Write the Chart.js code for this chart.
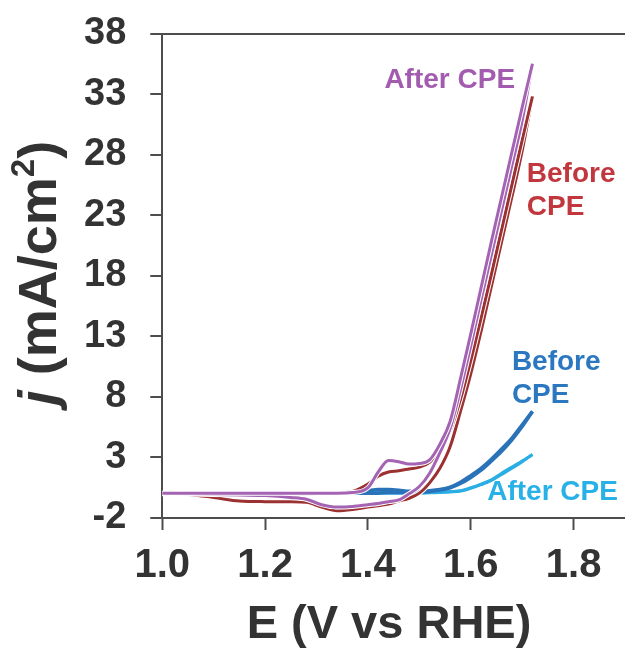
<!DOCTYPE html>
<html>
<head>
<meta charset="utf-8">
<script src="https://cdn.jsdelivr.net/npm/chart.js@4.4.1/dist/chart.umd.min.js"></script>
<style>
    html, body { margin: 0; padding: 0; background: #fff; }
    #wrap { width: 625px; height: 653px; }
</style>
</head>
<body>
<div id="wrap"><canvas id="Chart1"></canvas></div>
<script>

// potential grid (V vs RHE), shared by every scan
const potential = [1.00, 1.05, 1.10, 1.15, 1.20, 1.25, 1.28, 1.31, 1.34, 1.37, 1.40, 1.42, 1.44, 1.46,
                   1.48, 1.50, 1.52, 1.54, 1.56, 1.58, 1.60, 1.62, 1.64, 1.66, 1.68, 1.70, 1.72];

// current density (mA/cm2), forward and reverse scans
const redForward    = [0, 0, 0, 0, 0, 0, 0, 0.05, 0.1, 0.2, 0.8, 1.45, 1.8, 1.9,
                       2.05, 2.2, 2.6, 3.6, 5.2, 7.8, 11.0, 14.5, 18.1, 21.8, 25.5, 29.2, 32.8];
const redReverse    = [0, -0.05, -0.3, -0.6, -0.65, -0.66, -0.7, -1.1, -1.4, -1.3, -1.1, -1.0, -0.85, -0.6,
                       -0.37, 0.05, 0.9, 2.1, 3.9, 6.8, 9.9, 13.4, 17.1, 20.8, 24.5, 28.3, 32.8];
const purpleForward = [0.05, 0.05, 0.05, 0.05, 0.05, 0.05, 0.05, 0.05, 0.05, 0.1, 0.5, 1.8, 2.75, 2.65,
                       2.45, 2.5, 2.8, 4.1, 6.0, 9.5, 13.2, 17.0, 20.8, 24.5, 28.2, 31.9, 35.5];
const purpleReverse = [0.05, 0, -0.05, -0.1, -0.15, -0.3, -0.45, -0.9, -1.1, -1.05, -0.9, -0.8, -0.65, -0.5,
                       0.0, 0.6, 1.7, 3.4, 5.4, 8.6, 12.2, 16.0, 19.7, 23.4, 27.1, 30.8, 35.5];
const blueForward   = [0.05, 0.05, 0.05, 0.05, 0.05, 0.05, 0.05, 0.05, 0.05, 0.1, 0.25, 0.35, 0.35, 0.3,
                       0.2, 0.2, 0.25, 0.35, 0.55, 0.95, 1.5, 2.1, 2.85, 3.7, 4.6, 5.7, 6.8];
const blueReverse   = [0.05, 0.05, 0.05, 0.05, 0.05, 0.05, 0.05, 0.05, 0.05, 0.05, 0.05, 0.05, 0.1, 0.1,
                       0.1, 0.12, 0.18, 0.3, 0.5, 0.85, 1.35, 1.95, 2.7, 3.5, 4.45, 5.55, 6.8];
const cyanForward   = [0.05, 0.05, 0.05, 0.05, 0.05, 0.05, 0.05, 0.05, 0.05, 0.1, 0.15, 0.2, 0.2, 0.15,
                       0.1, 0.1, 0.1, 0.12, 0.18, 0.25, 0.5, 0.8, 1.15, 1.7, 2.2, 2.7, 3.25];
const cyanReverse   = [0.05, 0.05, 0.05, 0.05, 0.05, 0.05, 0.05, 0.05, 0.05, 0.05, 0.05, 0.05, 0.05, 0.05,
                       0.05, 0.05, 0.08, 0.1, 0.15, 0.22, 0.45, 0.75, 1.1, 1.6, 2.1, 2.65, 3.25];

const xTicks = [1.0, 1.2, 1.4, 1.6, 1.8];
const yTicks = [-2, 3, 8, 13, 18, 23, 28, 33, 38];

const FONT = "'Liberation Sans', Arial, sans-serif";
const INK = '#333333';
const AXIS = '#4d4d4d';

function strand(values, color, width, order) {
    return {
        data: potential.map((e, i) => ({ x: e, y: values[i] })),
        borderColor: color,
        borderWidth: width,
        pointRadius: 0,
        cubicInterpolationMode: 'monotone',
        order: order
    };
}

// curve labels, placed in data units (left edge, baseline)
const curveLabels = [
    { lines: ['After CPE'], x: 1.432, y: 33.5, color: '#a35bb0' },
    { lines: ['Before', 'CPE'], x: 1.709, y: 25.7, color: '#c1373d' },
    { lines: ['Before', 'CPE'], x: 1.680, y: 10.2, color: '#2b78c0' },
    { lines: ['After CPE'], x: 1.632, y: -0.5, color: '#28b1e7' }
];

const labelPlugin = {
    id: 'curveLabels',
    afterDatasetsDraw(chart) {
        const c = chart.ctx;
        const xs = chart.scales.x, ys = chart.scales.y;
        c.save();
        c.font = 'bold 28px ' + FONT;
        c.textAlign = 'left';
        c.textBaseline = 'alphabetic';
        curveLabels.forEach(l => {
            c.fillStyle = l.color;
            l.lines.forEach((t, i) => {
                c.fillText(t, xs.getPixelForValue(l.x), ys.getPixelForValue(l.y) + i * 33);
            });
        });
        c.restore();
    }
};

// axis titles: italic j and superscript 2 need mixed fonts
const titlePlugin = {
    id: 'axisTitles',
    afterDraw(chart) {
        const c = chart.ctx;
        c.save();
        c.fillStyle = INK;
        c.textBaseline = 'alphabetic';

        c.font = 'bold 47px ' + FONT;
        c.textAlign = 'center';
        c.fillText('E (V vs RHE)', 389, 638);

        const parts = [
            { t: 'j', f: 'italic bold 54px ' + FONT, dy: 0 },
            { t: ' (mA/cm', f: 'bold 54px ' + FONT, dy: 0 },
            { t: '2', f: 'bold 33px ' + FONT, dy: -22 },
            { t: ')', f: 'bold 54px ' + FONT, dy: 0 }
        ];
        let total = 0;
        parts.forEach(p => { c.font = p.f; p.w = c.measureText(p.t).width; total += p.w; });
        c.translate(56, 273);
        c.rotate(-Math.PI / 2);
        c.textAlign = 'left';
        let x = -total / 2;
        parts.forEach(p => { c.font = p.f; c.fillText(p.t, x, p.dy); x += p.w; });
        c.restore();
    }
};

const ctx = document.getElementById('Chart1');

new Chart(ctx, {
    type: 'line',
    data: {
        datasets: [
            strand(purpleForward, '#a463b3', 3, 1),
            strand(purpleForward, '#ffffff', 5, 2),
            strand(purpleReverse, '#a463b3', 3, 3),
            strand(purpleReverse, '#ffffff', 5, 4),
            strand(redForward, '#9b3131', 3, 5),
            strand(redForward, '#ffffff', 5, 6),
            strand(redReverse, '#9b3131', 3, 7),
            strand(redReverse, '#ffffff', 5, 8),
            strand(blueForward, '#2a73b9', 3.5, 9),
            strand(blueReverse, '#2a73b9', 3.5, 10),
            strand(cyanForward, '#2aaee3', 3, 11),
            strand(cyanReverse, '#2aaee3', 3, 12)
        ]
    },
    options: {
        responsive: true,
        maintainAspectRatio: false,
        animation: false,
        layout: { padding: { left: 60, top: 0, right: 0, bottom: 51 } },
        plugins: {
            legend: { display: false },
            tooltip: { enabled: false }
        },
        scales: {
            x: {
                type: 'linear',
                min: 1.0,
                max: 1.9,
                afterBuildTicks: axis => { axis.ticks = xTicks.map(v => ({ value: v })); },
                grid: { drawOnChartArea: false, tickLength: 12, tickColor: AXIS, tickWidth: 2 },
                border: { color: AXIS, width: 2 },
                ticks: {
                    color: INK,
                    padding: 12,
                    maxRotation: 0,
                    font: { family: FONT, size: 40, weight: 'bold' },
                    callback: v => v.toFixed(1)
                }
            },
            y: {
                min: -2,
                max: 38,
                afterBuildTicks: axis => { axis.ticks = yTicks.map(v => ({ value: v })); },
                grid: {
                    color: c => (c.tick && c.tick.value === 38) ? AXIS : 'rgba(0,0,0,0)',
                    lineWidth: 2,
                    tickLength: 12,
                    tickColor: AXIS,
                    tickWidth: 2
                },
                border: { color: AXIS, width: 2 },
                ticks: {
                    color: INK,
                    padding: 24,
                    font: { family: FONT, size: 38, weight: 'bold', lineHeight: 0.5 },
                    callback: v => String(v)
                }
            }
        }
    },
    plugins: [labelPlugin, titlePlugin]
});

</script>
</body>
</html>
